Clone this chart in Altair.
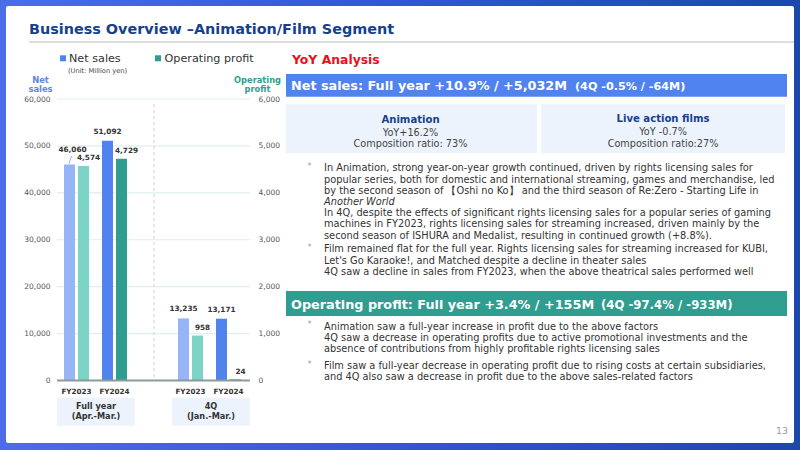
import altair as alt
import pandas as pd

FONT = "DejaVu Sans"

# ---------------- data ----------------
slots = ["Full FY2023", "Full FY2024", "gap", "4Q FY2023", "4Q FY2024"]
bar_slots = ["Full FY2023", "Full FY2024", "4Q FY2023", "4Q FY2024"]
years = ["FY2023", "FY2024", "FY2023", "FY2024"]
net_sales = [46060, 51092, 13235, 13171]
op_profit = [4574, 4729, 958, 24]
series = ["Net sales", "Operating profit"]
net_ticks = [0, 10000, 20000, 30000, 40000, 50000, 60000]
op_ticks = [0, 1000, 2000, 3000, 4000, 5000, 6000]
color_keys = ["Net sales FY2023", "Net sales FY2024", "Operating profit FY2023", "Operating profit FY2024"]
color_vals = ["#97b4f6", "#5083ee", "#7bd4c6", "#2f9d8f"]

title_text = "Business Overview \u2013Animation/Film Segment"
net_head = "Net sales: Full year +10.9% / +5,032M"
net_head_q = "(4Q -0.5% / -64M)"
op_head = "Operating profit: Full year +3.4% / +155M"
op_head_q = "(4Q -97.4% / -933M)"
anim_box = ["YoY+16.2%", "Composition ratio: 73%"]
live_box = ["YoY -0.7%", "Composition ratio:27%"]
net_bullet1a = [
    "In Animation, strong year-on-year growth continued, driven by rights licensing sales for",
    "popular series, both for domestic and international streaming, games and merchandise, led",
    "by the second season of \u3010Oshi no Ko\u3011 and the third season of Re:Zero - Starting Life in",
]
net_bullet1b = ["Another World"]
net_bullet1c = [
    "In 4Q, despite the effects of significant rights licensing sales for a popular series of gaming",
    "machines in FY2023, rights licensing sales for streaming increased, driven mainly by the",
    "second season of ISHURA and Medalist, resulting in continued growth (+8.8%).",
]
net_bullet2 = [
    "Film remained flat for the full year. Rights licensing sales for streaming increased for KUBI,",
    "Let's Go Karaoke!, and Matched despite a decline in theater sales",
    "4Q saw a decline in sales from FY2023, when the above theatrical sales performed well",
]
op_bullet1 = [
    "Animation saw a full-year increase in profit due to the above factors",
    "4Q saw a decrease in operating profits due to active promotional investments and the",
    "absence of contributions from highly profitable rights licensing sales",
]
op_bullet2 = [
    "Film saw a full-year decrease in operating profit due to rising costs at certain subsidiaries,",
    "and 4Q also saw a decrease in profit due to the above sales-related factors",
]

net_df = pd.DataFrame({"slot": bar_slots, "year": years, "value": net_sales})
net_df["series"] = "Net sales"
net_df["key"] = net_df["series"] + " " + net_df["year"]
op_df = pd.DataFrame({"slot": bar_slots, "year": years, "value": op_profit})
op_df["series"] = "Operating profit"
op_df["key"] = op_df["series"] + " " + op_df["year"]
year_df = pd.DataFrame({"slot": bar_slots, "year": years})

ONE = pd.DataFrame({"a": [0]})

# ---------------- scales ----------------
Y0, Y1 = 380.5, 99
X_ENC = alt.X("slot:N", scale=alt.Scale(type="band", domain=slots, range=[57.5, 247.5],
                                        paddingInner=0, paddingOuter=0), axis=None)
XO_ENC = alt.XOffset("series:N", scale=alt.Scale(domain=series, paddingInner=0.2143,
                                                 paddingOuter=0.4643))
NET_SCALE = alt.Scale(domain=[0, 60000], range=[Y0, Y1], nice=False, zero=True)
OP_SCALE = alt.Scale(domain=[0, 6000], range=[Y0, Y1], nice=False, zero=True)
COLOR_ENC = alt.Color("key:N", scale=alt.Scale(domain=color_keys, range=color_vals), legend=None)


def txt(x, y, text, size, color, weight="normal", align="left", baseline="middle", lh=None, style="normal"):
    kw = dict(text=text, fontSize=size, color=color, fontWeight=weight, align=align,
              baseline=baseline, font=FONT, fontStyle=style)
    if lh is not None:
        kw["lineHeight"] = lh
    return alt.Chart(ONE).mark_text(**kw).encode(x=alt.value(x), y=alt.value(y))


def box(x, y, x2, y2, color, **kw):
    return alt.Chart(ONE).mark_rect(color=color, **kw).encode(
        x=alt.value(x), x2=alt.value(x2), y=alt.value(y), y2=alt.value(y2))


layers = []
# background frame + card
layers.append(alt.Chart(ONE).mark_rect(color=alt.LinearGradient(
    gradient="linear", x1=0, x2=1, y1=0, y2=0,
    stops=[alt.GradientStop(color="#4d6ceb", offset=0),
           alt.GradientStop(color="#3157d2", offset=0.5),
           alt.GradientStop(color="#1a48ad", offset=1)])).encode(
    x=alt.value(0), x2=alt.value(800), y=alt.value(0), y2=alt.value(450)))
layers.append(box(6, 6, 794, 443, "#ffffff", cornerRadius=2))
# title
layers.append(txt(29, 29.5, title_text, 14.4, "#173f8c", weight="bold"))
layers.append(box(29, 41, 794, 43, "#dedede"))

# legend
layers.append(box(60, 55.3, 66, 61.3, "#5083ee"))
layers.append(txt(69, 58.5, "Net sales", 11.2, "#333333"))
layers.append(box(155, 55.3, 161, 61.3, "#2f9d8f"))
layers.append(txt(164.5, 58.5, "Operating profit", 11.2, "#333333"))
layers.append(txt(68, 71.3, "(Unit: Million yen)", 6.7, "#444444"))
layers.append(txt(40.5, 76, ["Net", "sales"], 8.4, "#5b86f0", weight="bold", align="center",
                  baseline="top", lh=9.3))
layers.append(txt(257.5, 76, ["Operating", "profit"], 8.3, "#2fa08f", weight="bold", align="center",
                  baseline="top", lh=9.3))

# gridlines
grid_df = pd.DataFrame({"v": net_ticks[1:]})
layers.append(alt.Chart(grid_df).mark_rule(color="#e0eeee", strokeWidth=1.2).encode(
    y=alt.Y("v:Q", scale=NET_SCALE, axis=None), x=alt.value(57), x2=alt.value(250)))
# dashed separator
layers.append(alt.Chart(ONE).mark_rule(color="#d0d0d0", strokeDash=[3, 3], strokeWidth=1).encode(
    x=alt.value(154), y=alt.value(104), y2=alt.value(380)))

AX = dict(format=",.0f", domain=False, ticks=False, grid=False, labelFont=FONT,
          labelFontSize=7.5, labelColor="#555555", title=None, zindex=1)
# bars
layers.append(alt.Chart(net_df).mark_bar().encode(
    x=X_ENC, xOffset=XO_ENC,
    y=alt.Y("value:Q", scale=NET_SCALE,
            axis=alt.Axis(orient="left", offset=-57, values=net_ticks, labelPadding=7, **AX)),
    color=COLOR_ENC))
layers.append(alt.Chart(op_df).mark_bar().encode(
    x=X_ENC, xOffset=XO_ENC,
    y=alt.Y("value:Q", scale=OP_SCALE,
            axis=alt.Axis(orient="right", offset=-550, values=op_ticks, labelPadding=8, **AX)),
    color=COLOR_ENC))
# baseline
layers.append(alt.Chart(ONE).mark_rule(color="#8c9a9a", strokeWidth=2).encode(
    y=alt.value(Y0), x=alt.value(57), x2=alt.value(250)))

# value labels
lab_kw = dict(fontSize=7.3, fontWeight="bold", color="#333333", font=FONT, baseline="middle")
layers.append(alt.Chart(net_df).transform_filter(alt.datum.slot != "Full FY2023").mark_text(
    dy=-9, **lab_kw).encode(
    x=X_ENC, xOffset=XO_ENC, y=alt.Y("value:Q", scale=NET_SCALE, axis=None),
    text=alt.Text("value:Q", format=",")))
layers.append(alt.Chart(net_df).transform_filter(alt.datum.slot == "Full FY2023").mark_text(
    dy=-14.5, dx=3, **lab_kw).encode(
    x=X_ENC, xOffset=XO_ENC, y=alt.Y("value:Q", scale=NET_SCALE, axis=None),
    text=alt.Text("value:Q", format=",")))
layers.append(alt.Chart(ONE).mark_rule(color="#97b4f6", strokeWidth=1).encode(
    x=alt.value(71.5), x2=alt.value(69), y=alt.value(156), y2=alt.value(163.5)))
layers.append(alt.Chart(op_df).mark_text(dy=-7.5, dx=5, **lab_kw).encode(
    x=X_ENC, xOffset=XO_ENC, y=alt.Y("value:Q", scale=OP_SCALE, axis=None),
    text=alt.Text("value:Q", format=",")))

# x labels
layers.append(alt.Chart(year_df).mark_text(fontSize=7.2, fontWeight="bold", color="#333333",
                                           font=FONT, baseline="middle").encode(
    x=X_ENC, y=alt.value(391.5), text="year:N"))
layers.append(box(57, 397.7, 134.7, 425.7, "#edf3fc"))
layers.append(box(172, 397.7, 250, 425.7, "#edf3fc"))
layers.append(txt(96, 403, ["Full year", "(Apr.-Mar.)"], 8.2, "#333333", weight="bold",
                  align="center", baseline="top", lh=10.3))
layers.append(txt(211, 403, ["4Q", "(Jan.-Mar.)"], 8.2, "#333333", weight="bold",
                  align="center", baseline="top", lh=10.3))

# right panel
layers.append(txt(292, 60.3, "YoY Analysis", 12.4, "#e8101a", weight="bold"))
layers.append(box(286, 74, 787, 96.7, "#5083ee"))
layers.append(txt(291, 85.7, net_head, 12.8, "#ffffff", weight="bold"))
layers.append(txt(575, 86.5, net_head_q, 11.2, "#ffffff", weight="bold"))
layers.append(box(286, 104.3, 537, 153.3, "#edf3fc"))
layers.append(box(541, 104.3, 785, 153.3, "#edf3fc"))
layers.append(txt(410.5, 120, "Animation", 10.1, "#173f8c", weight="bold", align="center"))
layers.append(txt(410.5, 127.5, anim_box, 9.7, "#444444", align="center", baseline="top", lh=11.3))
layers.append(txt(663, 119.3, "Live action films", 10.1, "#173f8c", weight="bold", align="center"))
layers.append(txt(663, 127, live_box, 9.7, "#444444", align="center", baseline="top", lh=11.6))

BODY = 9.8
LH = 11.2
def body(y_center, lines, style="normal"):
    return txt(324, y_center - 0.49 * BODY, lines, BODY, "#333333", baseline="top", lh=LH, style=style)

def star(y_center):
    return txt(309.5, y_center - 1.5, "*", 8, "#a0a0a0", align="center")

layers += [star(168.3), body(168.3, net_bullet1a),
           body(168.3 + 3 * LH, net_bullet1b, style="italic"),
           body(168.3 + 4 * LH, net_bullet1c),
           star(249.3), body(249.3, net_bullet2)]
layers.append(box(286, 291, 787, 316, "#2f9d8f"))
layers.append(txt(291, 304.5, op_head, 12.8, "#ffffff", weight="bold"))
layers.append(txt(601, 305.3, op_head_q, 11.7, "#ffffff", weight="bold"))
layers += [star(326.7), body(326.7, op_bullet1), star(366), body(366, op_bullet2)]

layers.append(txt(788, 431, "13", 9.4, "#999999", align="right"))

chart = alt.layer(*layers).resolve_scale(y="independent").properties(
    width=800, height=450, autosize=alt.AutoSizeParams(type="none"), padding=0
).configure_view(strokeWidth=0)

chart.save("out.html", embed_options={"renderer": "svg", "actions": False})
